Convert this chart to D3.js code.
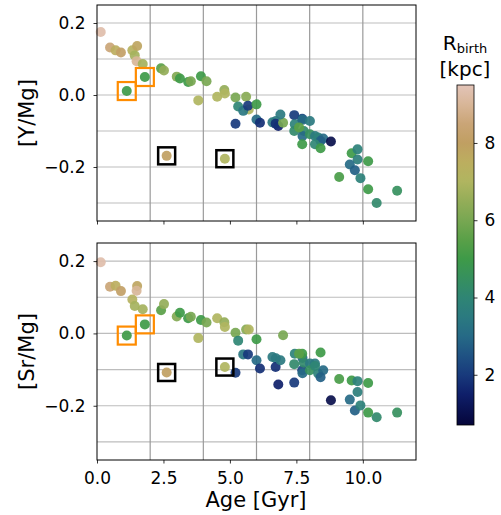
<html>
<head>
<meta charset="utf-8">
<script src="https://d3js.org/d3.v7.min.js"></script>
<style>
  body {margin: 0; background: white;}
  text {font-family: "DejaVu Sans", sans-serif; fill: black;}
</style>
</head>
<body>
<svg width="501" height="515"></svg>
<script>
// star data
var ages   = [0.14,0.49,0.70,0.90,1.33,1.51,1.42,1.49,1.72,1.80,1.12,2.41,2.52,3.00,3.12,3.43,3.53,3.91,4.12,3.81,
              2.62,4.52,4.79,4.81,4.81,5.21,5.61,5.71,5.31,5.50,5.68,6.00,5.21,6.00,6.13,6.60,6.73,6.82,6.72,7.00,
              6.90,7.42,7.44,7.42,7.72,7.73,7.78,7.73,7.72,7.60,8.01,8.01,8.20,8.32,8.51,8.41,8.20,8.41,8.80,9.11,
              9.58,9.80,9.80,10.20,9.51,9.70,9.91,10.20,10.52,11.29];
var rbirth = [9.3,8.5,7.5,8.1,7.2,7.8,6.8,9.0,6.8,5.0,5.0,5.5,6.5,6.2,5.0,5.0,6.0,5.0,6.0,7.0,
              8.0,7.0,6.5,7.0,7.0,6.0,6.3,7.0,4.0,3.4,2.0,5.0,2.0,3.0,1.8,3.5,3.5,1.5,1.8,6.0,
              3.5,2.0,3.8,4.2,2.2,3.0,4.2,3.0,5.0,5.5,3.5,4.5,3.5,3.8,3.0,2.8,4.0,5.0,1.0,5.2,
              5.0,3.8,3.7,5.0,3.0,2.8,3.8,5.0,4.2,4.5];
var yMg    = [0.175,0.132,0.124,0.118,0.124,0.136,0.110,0.094,0.086,0.050,0.011,0.074,0.068,0.051,0.046,0.036,0.038,0.052,0.038,-0.015,
              -0.169,-0.005,0.014,0.004,-0.177,-0.007,-0.005,-0.040,-0.032,-0.044,-0.030,-0.026,-0.080,-0.068,-0.077,-0.076,-0.072,-0.086,-0.080,-0.077,
              -0.054,-0.056,-0.081,-0.100,-0.066,-0.069,-0.100,-0.114,-0.137,-0.090,-0.072,-0.109,-0.114,-0.118,-0.121,-0.128,-0.137,-0.148,-0.129,-0.228,
              -0.162,-0.151,-0.179,-0.184,-0.193,-0.209,-0.231,-0.262,-0.300,-0.266];
var srMg   = [0.197,0.129,0.132,0.117,0.094,0.131,0.076,0.118,0.067,0.025,-0.006,0.064,0.081,0.047,0.057,0.042,0.046,0.037,0.030,-0.013,
              -0.108,0.042,0.031,0.018,-0.093,0.002,0.011,0.011,-0.020,-0.058,-0.058,-0.016,-0.109,-0.074,-0.097,-0.065,-0.069,-0.141,-0.093,-0.005,
              -0.074,-0.136,-0.056,-0.085,-0.102,-0.068,-0.081,-0.110,-0.056,-0.056,-0.083,-0.102,-0.083,-0.111,-0.102,-0.121,-0.090,-0.053,-0.185,-0.126,
              -0.130,-0.132,-0.162,-0.137,-0.183,-0.213,-0.199,-0.219,-0.232,-0.219];
var orangeIdx = [9, 10];
var blackIdx  = [20, 24];

var xTicks = [0, 2.5, 5, 7.5, 10];
var xGrid  = [2, 4, 6, 8, 10];
var yTicks = [0.2, 0.0, -0.2];
var yGrid  = [0.2, 0.1, 0.0, -0.1, -0.2, -0.3];
var cbTicks = [2, 4, 6, 8];

// colormap stops (gist_earth-like, sampled from the colour bar)
var cmapVals   = [0.7, 1.5, 2.0, 2.5, 3.0, 3.5, 4.0, 4.5, 5.0, 5.5, 6.0, 6.5, 7.0, 7.5, 8.0, 8.5, 9.0, 9.5];
var cmapColors = ["#05053a","#0f1f6a","#183a7c","#1f5283","#266a86","#2b7a80","#2f8574","#36905e","#3e9a48",
                  "#5aa048","#78a752","#94ad58","#b0b560","#bcae5f","#c09f62","#caa577","#d8b698","#e3c4b8"];
var color = d3.scaleLinear().domain(cmapVals).range(cmapColors).interpolate(d3.interpolateRgb);

var svg = d3.select("svg");
var x = d3.scaleLinear().domain([0, 12]).range([97, 416]);

function panel(top, bottom, vals, label, showX) {
  var y = d3.scaleLinear().domain([-0.35, 0.25]).range([bottom, top]);
  var g = svg.append("g");
  g.selectAll(".hg").data(yGrid).enter().append("line")
    .attr("x1", 97).attr("x2", 416)
    .attr("y1", d => y(d)).attr("y2", d => y(d))
    .attr("stroke", "#bdbdbd").attr("stroke-width", 1.2);
  g.selectAll(".vg").data(xGrid).enter().append("line")
    .attr("x1", d => x(d)).attr("x2", d => x(d))
    .attr("y1", top).attr("y2", bottom)
    .attr("stroke", "#9a9a9a").attr("stroke-width", 1.2);

  g.selectAll("circle").data(ages).enter().append("circle")
    .attr("cx", d => x(d))
    .attr("cy", (d, i) => y(vals[i]))
    .attr("r", 5)
    .attr("fill", (d, i) => color(rbirth[i]))
    .attr("fill-opacity", 0.92);

  g.selectAll(".osq").data(orangeIdx).enter().append("rect")
    .attr("x", i => x(ages[i]) - 9).attr("y", i => y(vals[i]) - 9)
    .attr("width", 18).attr("height", 18)
    .attr("fill", "none").attr("stroke", "#ff8c00").attr("stroke-width", 2.2);
  g.selectAll(".bsq").data(blackIdx).enter().append("rect")
    .attr("x", i => x(ages[i]) - 8.5).attr("y", i => y(vals[i]) - 8.5)
    .attr("width", 17).attr("height", 17)
    .attr("fill", "none").attr("stroke", "black").attr("stroke-width", 2.5);

  var xa = d3.axisBottom(x).tickValues(xTicks).tickSize(3.5).tickPadding(8)
    .tickFormat(showX ? d3.format(".1f") : "");
  g.append("g").attr("transform", "translate(0," + bottom + ")").call(xa);
  var ya = d3.axisLeft(y).tickValues(yTicks).tickSize(3.5).tickPadding(8)
    .tickFormat(d => d3.format(".1f")(d).replace("-", "\u2212"));
  g.append("g").attr("transform", "translate(97,0)").call(ya);
  g.selectAll(".domain").remove();
  g.selectAll(".tick line").attr("stroke", "black").attr("stroke-width", 0.8);
  g.selectAll(".tick text").attr("font-size", 17).attr("font-family", "DejaVu Sans").attr("fill", "black");

  g.append("rect").attr("x", 97).attr("y", top).attr("width", 319).attr("height", bottom - top)
    .attr("fill", "none").attr("stroke", "black").attr("stroke-width", 1);

  g.append("text").attr("transform", "translate(34," + ((top + bottom) / 2) + ") rotate(-90)")
    .attr("text-anchor", "middle").attr("font-size", 21).text(label);
}

panel(5, 221, yMg, "[Y/Mg]", false);
panel(243, 460, srMg, "[Sr/Mg]", true);

svg.append("text").attr("x", 256).attr("y", 507).attr("text-anchor", "middle")
  .attr("font-size", 21).text("Age [Gyr]");

// colour bar
var cb = d3.scaleLinear().domain([0.7, 9.5]).range([425, 85]);
var defs = svg.append("defs");
var grad = defs.append("linearGradient").attr("id", "cbg")
  .attr("x1", 0).attr("y1", 1).attr("x2", 0).attr("y2", 0);
grad.selectAll("stop").data(cmapVals).enter().append("stop")
  .attr("offset", d => (d - 0.7) / (9.5 - 0.7))
  .attr("stop-color", (d, i) => cmapColors[i]);
svg.append("rect").attr("x", 457).attr("y", 85).attr("width", 17).attr("height", 340)
  .attr("fill", "url(#cbg)").attr("stroke", "black").attr("stroke-width", 0.8);
var ca = d3.axisRight(cb).tickValues(cbTicks).tickSize(3.5).tickPadding(7).tickFormat(d3.format("d"));
var cg = svg.append("g").attr("transform", "translate(474,0)").call(ca);
cg.select(".domain").remove();
cg.selectAll(".tick line").attr("stroke", "black").attr("stroke-width", 0.8);
cg.selectAll(".tick text").attr("font-size", 17).attr("font-family", "DejaVu Sans").attr("fill", "black");

var lab = svg.append("text").attr("x", 465).attr("y", 50).attr("text-anchor", "middle").attr("font-size", 20);
lab.append("tspan").text("R");
lab.append("tspan").attr("font-size", 13).attr("dy", 3).text("birth");
svg.append("text").attr("x", 465).attr("y", 76).attr("text-anchor", "middle").attr("font-size", 20).text("[kpc]");
</script>
</body>
</html>
